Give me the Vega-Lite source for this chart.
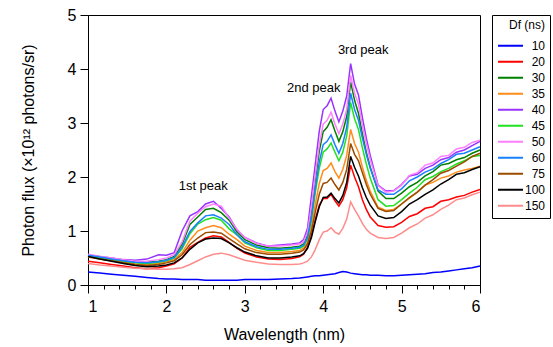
{
  "$schema": "https://vega.github.io/schema/vega-lite/v6.json",
  "width": 392,
  "height": 270,
  "autosize": {"type": "none"},
  "padding": {"left": 88, "top": 15, "right": 73, "bottom": 62},
  "background": "white",
  "config": {
    "font": "Liberation Sans",
    "view": {"stroke": "black", "strokeWidth": 1},
    "axis": {
      "grid": false, "domainColor": "black", "tickColor": "black", "labelColor": "black", "titleColor": "black",
      "labelFontSize": 16, "titleFontSize": 16, "titleFontWeight": "normal", "labelFont": "Liberation Sans", "titleFont": "Liberation Sans",
      "tickSize": 8, "domainWidth": 1, "tickWidth": 1
    },
    "legend": {
      "orient": "none", "legendX": 404, "legendY": 0,
      "strokeColor": "black", "fillColor": "white", "padding": 5,
      "titleFontSize": 12, "titleFontWeight": "normal", "titleColor": "black", "titleAnchor": "end", "titlePadding": 7, "titleFont": "Liberation Sans",
      "labelFontSize": 12, "labelColor": "black", "labelAlign": "right", "labelOffset": 21, "labelFont": "Liberation Sans",
      "symbolType": "stroke", "symbolSize": 625, "symbolStrokeWidth": 2,
      "clipHeight": 13.66, "rowPadding": 2
    }
  },
  "layer": [
    {
      "data": {"values": [
        {"w":1.0,"10":0.24,"20":0.44,"30":0.54,"35":0.53,"40":0.56,"45":0.53,"50":0.57,"60":0.55,"75":0.52,"100":0.53,"150":0.40},
        {"w":1.15,"10":0.22,"20":0.41,"30":0.51,"35":0.49,"40":0.53,"45":0.50,"50":0.53,"60":0.52,"75":0.48,"100":0.48,"150":0.37},
        {"w":1.3,"10":0.20,"20":0.38,"30":0.48,"35":0.46,"40":0.50,"45":0.47,"50":0.50,"60":0.48,"75":0.45,"100":0.44,"150":0.35},
        {"w":1.45,"10":0.18,"20":0.35,"30":0.45,"35":0.42,"40":0.47,"45":0.44,"50":0.47,"60":0.45,"75":0.41,"100":0.40,"150":0.33},
        {"w":1.6,"10":0.16,"20":0.32,"30":0.43,"35":0.39,"40":0.46,"45":0.41,"50":0.44,"60":0.42,"75":0.38,"100":0.36,"150":0.31},
        {"w":1.75,"10":0.14,"20":0.30,"30":0.42,"35":0.38,"40":0.48,"45":0.40,"50":0.44,"60":0.41,"75":0.36,"100":0.34,"150":0.30},
        {"w":1.9,"10":0.12,"20":0.32,"30":0.44,"35":0.40,"40":0.56,"45":0.42,"50":0.47,"60":0.43,"75":0.38,"100":0.35,"150":0.29},
        {"w":2.0,"10":0.11,"20":0.35,"30":0.47,"35":0.43,"40":0.55,"45":0.45,"50":0.50,"60":0.46,"75":0.41,"100":0.37,"150":0.29},
        {"w":2.1,"10":0.11,"20":0.39,"30":0.53,"35":0.47,"40":0.60,"45":0.50,"50":0.56,"60":0.51,"75":0.45,"100":0.41,"150":0.30},
        {"w":2.2,"10":0.10,"20":0.50,"30":0.75,"35":0.60,"40":1.00,"45":0.67,"50":0.80,"60":0.70,"75":0.56,"100":0.50,"150":0.32},
        {"w":2.3,"10":0.10,"20":0.70,"30":1.12,"35":0.83,"40":1.28,"45":0.95,"50":1.18,"60":0.99,"75":0.75,"100":0.66,"150":0.38},
        {"w":2.4,"10":0.10,"20":0.79,"30":1.26,"35":1.00,"40":1.36,"45":1.13,"50":1.33,"60":1.15,"75":0.87,"100":0.78,"150":0.45},
        {"w":2.5,"10":0.09,"20":0.87,"30":1.40,"35":1.06,"40":1.50,"45":1.21,"50":1.45,"60":1.28,"75":0.97,"100":0.85,"150":0.52},
        {"w":2.6,"10":0.09,"20":0.91,"30":1.42,"35":1.10,"40":1.55,"45":1.25,"50":1.50,"60":1.30,"75":0.98,"100":0.87,"150":0.57},
        {"w":2.7,"10":0.09,"20":0.89,"30":1.34,"35":1.06,"40":1.42,"45":1.20,"50":1.46,"60":1.24,"75":0.96,"100":0.86,"150":0.59},
        {"w":2.8,"10":0.09,"20":0.79,"30":1.20,"35":0.94,"40":1.26,"45":1.04,"50":1.24,"60":1.12,"75":0.86,"100":0.78,"150":0.56},
        {"w":2.9,"10":0.09,"20":0.68,"30":0.98,"35":0.84,"40":1.02,"45":0.93,"50":1.03,"60":0.93,"75":0.76,"100":0.69,"150":0.51},
        {"w":3.0,"10":0.10,"20":0.59,"30":0.84,"35":0.72,"40":0.88,"45":0.78,"50":0.88,"60":0.80,"75":0.67,"100":0.61,"150":0.46},
        {"w":3.15,"10":0.10,"20":0.52,"30":0.74,"35":0.64,"40":0.78,"45":0.69,"50":0.77,"60":0.71,"75":0.60,"100":0.54,"150":0.42},
        {"w":3.3,"10":0.10,"20":0.48,"30":0.69,"35":0.60,"40":0.72,"45":0.64,"50":0.72,"60":0.66,"75":0.57,"100":0.50,"150":0.39},
        {"w":3.45,"10":0.11,"20":0.47,"30":0.68,"35":0.60,"40":0.74,"45":0.64,"50":0.72,"60":0.66,"75":0.57,"100":0.50,"150":0.38},
        {"w":3.6,"10":0.12,"20":0.49,"30":0.70,"35":0.62,"40":0.76,"45":0.66,"50":0.74,"60":0.68,"75":0.59,"100":0.52,"150":0.38},
        {"w":3.7,"10":0.13,"20":0.52,"30":0.72,"35":0.64,"40":0.78,"45":0.68,"50":0.76,"60":0.70,"75":0.61,"100":0.54,"150":0.39},
        {"w":3.75,"10":0.14,"20":0.57,"30":0.76,"35":0.68,"40":0.84,"45":0.72,"50":0.80,"60":0.74,"75":0.65,"100":0.58,"150":0.41},
        {"w":3.8,"10":0.15,"20":0.70,"30":0.92,"35":0.80,"40":1.05,"45":0.85,"50":0.98,"60":0.88,"75":0.76,"100":0.68,"150":0.44},
        {"w":3.85,"10":0.16,"20":0.92,"30":1.35,"35":1.08,"40":1.65,"45":1.20,"50":1.45,"60":1.25,"75":1.00,"100":0.88,"150":0.52},
        {"w":3.9,"10":0.17,"20":1.22,"30":1.95,"35":1.50,"40":2.25,"45":1.72,"50":2.05,"60":1.80,"75":1.36,"100":1.18,"150":0.66},
        {"w":3.95,"10":0.17,"20":1.48,"30":2.48,"35":1.88,"40":2.85,"45":2.16,"50":2.60,"60":2.28,"75":1.68,"100":1.45,"150":0.84},
        {"w":4.0,"10":0.18,"20":1.60,"30":2.84,"35":2.12,"40":3.25,"45":2.46,"50":2.98,"60":2.60,"75":1.88,"100":1.62,"150":0.98},
        {"w":4.05,"10":0.19,"20":1.60,"30":2.92,"35":2.16,"40":3.32,"45":2.52,"50":3.05,"60":2.66,"75":1.90,"100":1.63,"150":1.00},
        {"w":4.1,"10":0.20,"20":1.68,"30":3.06,"35":2.26,"40":3.46,"45":2.63,"50":3.20,"60":2.78,"75":1.98,"100":1.70,"150":1.06},
        {"w":4.15,"10":0.21,"20":1.56,"30":2.85,"35":2.10,"40":3.22,"45":2.46,"50":2.98,"60":2.60,"75":1.86,"100":1.60,"150":0.98},
        {"w":4.2,"10":0.23,"20":1.46,"30":2.66,"35":1.98,"40":3.02,"45":2.30,"50":2.80,"60":2.44,"75":1.76,"100":1.52,"150":0.94},
        {"w":4.25,"10":0.25,"20":1.58,"30":2.84,"35":2.14,"40":3.22,"45":2.46,"50":2.98,"60":2.62,"75":1.90,"100":1.66,"150":1.05},
        {"w":4.3,"10":0.24,"20":1.80,"30":3.12,"35":2.40,"40":3.50,"45":2.76,"50":3.25,"60":2.92,"75":2.14,"100":1.90,"150":1.22},
        {"w":4.35,"10":0.22,"20":2.22,"30":3.76,"35":2.88,"40":4.10,"45":3.38,"50":3.88,"60":3.55,"75":2.62,"100":2.38,"150":1.54},
        {"w":4.4,"10":0.21,"20":2.00,"30":3.42,"35":2.62,"40":3.72,"45":3.08,"50":3.55,"60":3.25,"75":2.42,"100":2.18,"150":1.40},
        {"w":4.45,"10":0.20,"20":1.82,"30":3.18,"35":2.46,"40":3.52,"45":2.88,"50":3.35,"60":3.05,"75":2.30,"100":2.02,"150":1.28},
        {"w":4.5,"10":0.19,"20":1.58,"30":2.80,"35":2.18,"40":3.10,"45":2.54,"50":2.95,"60":2.72,"75":2.08,"100":1.80,"150":1.14},
        {"w":4.55,"10":0.19,"20":1.40,"30":2.46,"35":1.94,"40":2.72,"45":2.24,"50":2.62,"60":2.42,"75":1.86,"100":1.62,"150":1.03},
        {"w":4.6,"10":0.18,"20":1.26,"30":2.18,"35":1.74,"40":2.40,"45":1.98,"50":2.32,"60":2.16,"75":1.68,"100":1.48,"150":0.96},
        {"w":4.7,"10":0.18,"20":1.10,"30":1.74,"35":1.44,"40":1.85,"45":1.58,"50":1.84,"60":1.76,"75":1.42,"100":1.28,"150":0.88},
        {"w":4.8,"10":0.17,"20":1.07,"30":1.60,"35":1.38,"40":1.74,"45":1.46,"50":1.72,"60":1.68,"75":1.36,"100":1.23,"150":0.86},
        {"w":4.9,"10":0.17,"20":1.08,"30":1.60,"35":1.40,"40":1.75,"45":1.47,"50":1.74,"60":1.68,"75":1.38,"100":1.25,"150":0.88},
        {"w":5.0,"10":0.18,"20":1.16,"30":1.70,"35":1.50,"40":1.86,"45":1.58,"50":1.85,"60":1.78,"75":1.50,"100":1.36,"150":0.96},
        {"w":5.1,"10":0.19,"20":1.27,"30":1.82,"35":1.61,"40":2.02,"45":1.70,"50":2.03,"60":1.93,"75":1.62,"100":1.50,"150":1.06},
        {"w":5.2,"10":0.20,"20":1.32,"30":1.90,"35":1.72,"40":2.05,"45":1.81,"50":2.08,"60":2.00,"75":1.72,"100":1.58,"150":1.13},
        {"w":5.3,"10":0.21,"20":1.42,"30":2.02,"35":1.85,"40":2.16,"45":1.95,"50":2.22,"60":2.09,"75":1.85,"100":1.68,"150":1.24},
        {"w":5.4,"10":0.23,"20":1.45,"30":2.10,"35":1.90,"40":2.22,"45":2.01,"50":2.26,"60":2.15,"75":1.95,"100":1.76,"150":1.30},
        {"w":5.5,"10":0.24,"20":1.55,"30":2.22,"35":1.98,"40":2.32,"45":2.10,"50":2.38,"60":2.25,"75":2.07,"100":1.87,"150":1.40},
        {"w":5.6,"10":0.26,"20":1.58,"30":2.25,"35":2.02,"40":2.36,"45":2.16,"50":2.40,"60":2.32,"75":2.12,"100":1.95,"150":1.48},
        {"w":5.7,"10":0.28,"20":1.63,"30":2.32,"35":2.09,"40":2.46,"45":2.24,"50":2.52,"60":2.42,"75":2.20,"100":2.05,"150":1.58},
        {"w":5.8,"10":0.30,"20":1.66,"30":2.36,"35":2.13,"40":2.50,"45":2.30,"50":2.55,"60":2.44,"75":2.28,"100":2.08,"150":1.61},
        {"w":5.9,"10":0.32,"20":1.72,"30":2.44,"35":2.16,"40":2.58,"45":2.38,"50":2.64,"60":2.50,"75":2.38,"100":2.14,"150":1.67},
        {"w":6.0,"10":0.35,"20":1.77,"30":2.50,"35":2.20,"40":2.66,"45":2.40,"50":2.68,"60":2.56,"75":2.44,"100":2.19,"150":1.72}
      ]},
      "transform": [{"fold": ["10","20","30","35","40","45","50","60","75","100","150"], "as": ["Df","v"]}],
      "mark": {"type": "line", "strokeWidth": 1.5},
      "encoding": {
        "x": {"field": "w", "type": "quantitative", "scale": {"domain": [1,6], "nice": false},
              "axis": {"values": [1,2,3,4,5,6], "format": "d", "title": "Wavelength (nm)", "labelPadding": 5, "titlePadding": 12}},
        "y": {"field": "v", "type": "quantitative", "scale": {"domain": [0,5], "nice": false},
              "axis": {"values": [0,1,2,3,4,5], "format": "d", "title": "Photon flux (×10¹² photons/sr)", "labelPadding": 4, "titlePadding": 31}},
        "color": {"field": "Df", "type": "nominal", "sort": null, "title": "Df (ns)",
                  "scale": {"domain": ["10","20","30","35","40","45","50","60","75","100","150"],
                            "range": ["#0000ff","#ff0000","#008000","#ff8c1a","#9933ff","#22e022","#ff80ff","#1a80ff","#994c00","#000000","#ff8c8c"]}}
      }
    },
    {
      "data": {"values": [
        {"w": 2.47, "v": 1.83, "t": "1st peak"},
        {"w": 3.88, "v": 3.64, "t": "2nd peak"},
        {"w": 4.51, "v": 4.36, "t": "3rd peak"}
      ]},
      "mark": {"type": "text", "fontSize": 13, "font": "Liberation Sans", "color": "black"},
      "encoding": {
        "x": {"field": "w", "type": "quantitative",
              "axis": {"orient": "bottom", "values": [1.2,1.4,1.6,1.8,2.2,2.4,2.6,2.8,3.2,3.4,3.6,3.8,4.2,4.4,4.6,4.8,5.2,5.4,5.6,5.8], "labels": false, "domain": false, "tickSize": 4, "title": null}},
        "y": {"field": "v", "type": "quantitative",
              "axis": {"values": [0,1,2,3,4,5], "format": "d", "title": "Photon flux (×10¹² photons/sr)", "labelPadding": 4, "titlePadding": 31}},
        "text": {"field": "t"}
      }
    }
  ],
  "resolve": {"axis": {"x": "independent"}}
}
